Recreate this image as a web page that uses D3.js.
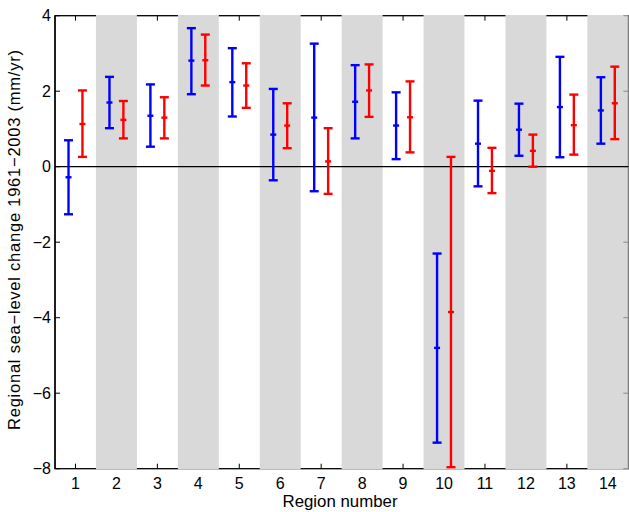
<!DOCTYPE html>
<html><head><meta charset="utf-8">
<script src="https://cdn.jsdelivr.net/npm/d3@7"></script>
<style>body{margin:0;background:#fff}svg{display:block;font-family:"Liberation Sans",Arial,sans-serif}</style>
</head><body><svg id="c" width="629" height="512"></svg>
<script>
const regions = [1,2,3,4,5,6,7,8,9,10,11,12,13,14];
const blueMid = [-0.28,1.70,1.35,2.81,2.24,0.85,1.30,1.72,1.09,-4.80,0.61,0.98,1.58,1.49];
const blueLo  = [-1.26,1.02,0.53,1.92,1.33,-0.36,-0.65,0.75,0.20,-7.31,-0.52,0.29,0.25,0.61];
const blueHi  = [0.70,2.38,2.18,3.67,3.14,2.06,3.26,2.69,1.97,-2.30,1.75,1.67,2.91,2.37];
const redMid  = [1.13,1.24,1.30,2.82,2.15,1.09,0.14,2.02,1.31,-3.85,-0.11,0.42,1.10,1.68];
const redLo   = [0.26,0.75,0.75,2.15,1.56,0.49,-0.72,1.32,0.38,-7.96,-0.70,0.00,0.32,0.73];
const redHi   = [2.02,1.74,1.84,3.50,2.74,1.68,1.02,2.71,2.26,0.26,0.50,0.85,1.91,2.65];
const yTicks = [-8,-6,-4,-2,0,2,4];

const svg = d3.select("#c");
const L=55, R=628.3, T=15.7, B=468.7;
const x = d3.scaleLinear().domain([0.5,14.5]).range([L,R]);
const y = d3.scaleLinear().domain([-8,4]).range([B,T]);
const fmt = d => d<0 ? "\u2212"+Math.abs(d) : String(d);

// box + ticks (under bands)
const g = svg.append("g");
g.append("rect").attr("x",L).attr("y",T).attr("width",R-L).attr("height",B-T)
  .attr("fill","none").attr("stroke","#000").attr("stroke-width",1.3);
regions.forEach(r=>{
  g.append("line").attr("x1",x(r)).attr("x2",x(r)).attr("y1",B).attr("y2",B-5).attr("stroke","#000");
  g.append("line").attr("x1",x(r)).attr("x2",x(r)).attr("y1",T).attr("y2",T+5).attr("stroke","#000");
});
yTicks.forEach(t=>{
  g.append("line").attr("x1",L).attr("x2",L+5).attr("y1",y(t)).attr("y2",y(t)).attr("stroke","#000");
});

// gray bands for even regions
svg.append("g").selectAll("rect").data(regions.filter(r=>r%2===0)).join("rect")
  .attr("x",r=>x(r-0.5)).attr("width",r=>x(r+0.5)-x(r-0.5))
  .attr("y",T-0.7).attr("height",B-T+1.4).attr("fill","#d9d9d9");

// left axis line redraw & right axis
svg.append("line").attr("x1",L).attr("x2",L).attr("y1",T).attr("y2",B).attr("stroke","#000").attr("stroke-width",1.3);
svg.append("line").attr("x1",R).attr("x2",R).attr("y1",T).attr("y2",B).attr("stroke","#888").attr("stroke-width",1.2);
yTicks.forEach(t=>{
  svg.append("line").attr("x1",R-5).attr("x2",R).attr("y1",y(t)).attr("y2",y(t)).attr("stroke","#888");
});

// zero line
svg.append("line").attr("x1",L).attr("x2",R).attr("y1",y(0)).attr("y2",y(0)).attr("stroke","#000").attr("stroke-width",1.3);

// error bars
function bars(mid,lo,hi,off,color){
  const gg = svg.append("g").attr("stroke",color).attr("stroke-width",2.4);
  regions.forEach((r,i)=>{
    const cx = x(r+off);
    gg.append("line").attr("x1",cx).attr("x2",cx).attr("y1",y(lo[i])).attr("y2",y(hi[i]));
    gg.append("line").attr("x1",cx-4.5).attr("x2",cx+4.5).attr("y1",y(lo[i])).attr("y2",y(lo[i]));
    gg.append("line").attr("x1",cx-4.5).attr("x2",cx+4.5).attr("y1",y(hi[i])).attr("y2",y(hi[i]));
    gg.append("line").attr("x1",cx-3).attr("x2",cx+3).attr("y1",y(mid[i])).attr("y2",y(mid[i]));
  });
}
bars(blueMid,blueLo,blueHi,-0.17,"#0000ff");
bars(redMid,redLo,redHi,0.17,"#ff0000");

// tick labels
svg.append("g").selectAll("text").data(yTicks).join("text")
  .attr("x",L-4).attr("y",t=>y(t)).attr("dy","0.36em").attr("text-anchor","end")
  .attr("font-size",16).text(fmt);
svg.append("g").selectAll("text").data(regions).join("text")
  .attr("x",r=>x(r)).attr("y",489).attr("text-anchor","middle")
  .attr("font-size",16).text(d=>d);

svg.append("text").attr("x",340).attr("y",506.5).attr("text-anchor","middle")
  .attr("font-size",16.5).attr("textLength",115).attr("lengthAdjust","spacingAndGlyphs").text("Region number");
svg.append("text").attr("transform",`translate(20,240) rotate(-90)`)
  .attr("text-anchor","middle").attr("font-size",16.5)
  .attr("textLength",380).attr("lengthAdjust","spacing")
  .text("Regional sea\u2212level change 1961\u22122003 (mm/yr)");
</script></body></html>
